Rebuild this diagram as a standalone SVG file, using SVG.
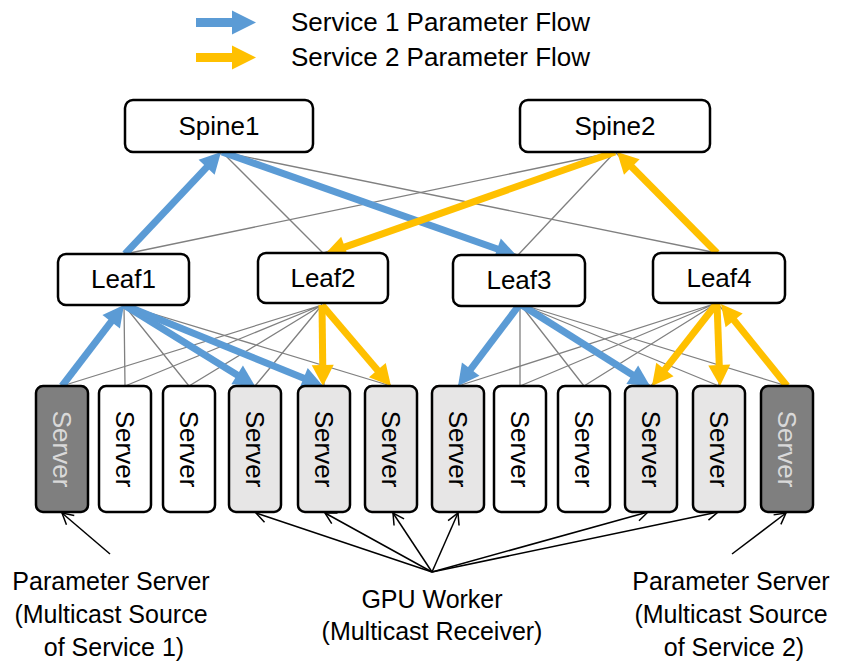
<svg xmlns="http://www.w3.org/2000/svg" width="842" height="661" viewBox="0 0 842 661">
<style>
text{font-family:"Liberation Sans",Arial,sans-serif;fill:#000}
.box{fill:#fff;stroke:#000;stroke-width:2.5}
.lbl{font-size:26px;text-anchor:middle}
.srv{stroke:#000;stroke-width:2.5}
.white{fill:#fff}
.light{fill:#e7e6e6}
.dark{fill:#7f7f7f}
.stxt{font-size:26px;text-anchor:middle;dominant-baseline:central}
.gray{stroke:#808080;stroke-width:1.3;fill:none}
.blue{stroke:#5b9bd5;stroke-width:7;fill:none;marker-end:url(#hb)}
.yel{stroke:#ffc000;stroke-width:7;fill:none;marker-end:url(#hy)}
.thin{stroke:#000;stroke-width:1.5;fill:none;marker-end:url(#ho)}
.cap{font-size:25px;text-anchor:middle}
.leg{font-size:26px}
</style>
<defs>
<marker id="hb" markerUnits="userSpaceOnUse" viewBox="0 -12 22 24" markerWidth="22" markerHeight="24" refX="1" refY="0" orient="auto" overflow="visible"><path d="M0,-11 L21,0 L0,11 z" fill="#5b9bd5"/></marker>
<marker id="hy" markerUnits="userSpaceOnUse" viewBox="0 -12 22 24" markerWidth="22" markerHeight="24" refX="1" refY="0" orient="auto" overflow="visible"><path d="M0,-11 L21,0 L0,11 z" fill="#ffc000"/></marker>
<marker id="ho" markerUnits="userSpaceOnUse" viewBox="-12 -7 13 14" markerWidth="13" markerHeight="14" refX="0" refY="0" orient="auto" overflow="visible"><path d="M-11,-6 L0,0 L-11,6" fill="none" stroke="#000" stroke-width="1.5"/></marker>
</defs>
<rect width="842" height="661" fill="#fff"/>
<g id="legend">
<polygon points="196,18 232,18 232,10.5 256,22.5 232,34.5 232,27 196,27" fill="#5b9bd5"/>
<polygon points="196,53 232,53 232,45.5 256,57.5 232,69.5 232,62 196,62" fill="#ffc000"/>
<text class="leg" x="291" y="31">Service 1 Parameter Flow</text>
<text class="leg" x="291" y="66">Service 2 Parameter Flow</text>
</g>
<g id="connectors">
<g id="gray-links">
<line class="gray" x1="222" y1="152" x2="125" y2="254"/>
<line class="gray" x1="222" y1="152" x2="323" y2="253"/>
<line class="gray" x1="222" y1="152" x2="518" y2="255"/>
<line class="gray" x1="222" y1="152" x2="717" y2="253"/>
<line class="gray" x1="615" y1="152" x2="125" y2="254"/>
<line class="gray" x1="615" y1="152" x2="323" y2="253"/>
<line class="gray" x1="615" y1="152" x2="518" y2="255"/>
<line class="gray" x1="615" y1="152" x2="717" y2="253"/>
<path class="gray" d="M124,305 L62,386 M124,305 L125,386 M124,305 L189,386 M124,305 L255,386 M124,305 L324,386 M124,305 L391,386"/>
<path class="gray" d="M322,305 L62,386 M322,305 L125,386 M322,305 L189,386 M322,305 L255,386 M322,305 L324,386 M322,305 L391,386"/>
<path class="gray" d="M520,304 L458,386 M520,304 L520,386 M520,304 L584,386 M520,304 L651,386 M520,304 L719,386 M520,304 L787,386"/>
<path class="gray" d="M717,303 L458,386 M717,303 L520,386 M717,303 L584,386 M717,303 L651,386 M717,303 L719,386 M717,303 L787,386"/>
</g>
<g id="flows">
<line class="blue" x1="125" y1="254" x2="207.3" y2="166.6"/>
<line class="blue" x1="222" y1="152" x2="498.1" y2="249.3"/>
<line class="yel" x1="615" y1="152" x2="343.9" y2="247.4"/>
<line class="yel" x1="717" y1="253" x2="631.1" y2="166.2"/>
<line class="blue" x1="62" y1="386" x2="111.8" y2="320.9"/>
<line class="blue" x1="124" y1="305" x2="238" y2="375.5"/>
<line class="blue" x1="124" y1="305" x2="304.5" y2="378.5"/>
<line class="yel" x1="322" y1="305" x2="322.75" y2="366"/>
<line class="yel" x1="322" y1="305" x2="378" y2="370.8"/>
<line class="blue" x1="520" y1="304" x2="470.1" y2="370"/>
<line class="blue" x1="520" y1="304" x2="633.1" y2="375.3"/>
<line class="yel" x1="717" y1="303" x2="664.3" y2="370.3"/>
<line class="yel" x1="717" y1="303" x2="719.3" y2="366"/>
<line class="yel" x1="787" y1="386" x2="733.5" y2="319.6"/>
</g>
<g id="label-pointers">
<line class="thin" x1="110" y1="554" x2="62" y2="513"/>
<line class="thin" x1="432" y1="572" x2="256" y2="513"/>
<line class="thin" x1="432" y1="572" x2="325" y2="513"/>
<line class="thin" x1="432" y1="572" x2="393" y2="513"/>
<line class="thin" x1="432" y1="572" x2="458" y2="513"/>
<line class="thin" x1="432" y1="572" x2="648" y2="512"/>
<line class="thin" x1="432" y1="572" x2="718" y2="512"/>
<line class="thin" x1="732" y1="554" x2="786" y2="513"/>
</g>
</g>
<g id="spine1"><rect class="box" x="125" y="100" width="188" height="52" rx="8"/><text class="lbl" x="219" y="135">Spine1</text></g>
<g id="spine2"><rect class="box" x="520" y="100" width="190" height="52" rx="8"/><text class="lbl" x="615" y="135">Spine2</text></g>
<g id="leaf1"><rect class="box" x="58" y="254" width="131" height="51" rx="8"/><text class="lbl" x="123.5" y="288">Leaf1</text></g>
<g id="leaf2"><rect class="box" x="258" y="253" width="130" height="50" rx="8"/><text class="lbl" x="323" y="287">Leaf2</text></g>
<g id="leaf3"><rect class="box" x="453" y="255" width="132" height="51" rx="8"/><text class="lbl" x="519" y="289">Leaf3</text></g>
<g id="leaf4"><rect class="box" x="653" y="253" width="132" height="50" rx="8"/><text class="lbl" x="719" y="287">Leaf4</text></g>
<g id="server1"><rect class="srv dark" x="36" y="386" width="52" height="126" rx="7"/><text class="stxt" style="fill:#d9d9d9" transform="translate(62,449) rotate(90)">Server</text></g>
<g id="server2"><rect class="srv white" x="99" y="386" width="52" height="126" rx="7"/><text class="stxt" transform="translate(125,449) rotate(90)">Server</text></g>
<g id="server3"><rect class="srv white" x="163" y="386" width="52" height="126" rx="7"/><text class="stxt" transform="translate(189,449) rotate(90)">Server</text></g>
<g id="server4"><rect class="srv light" x="229" y="386" width="52" height="126" rx="7"/><text class="stxt" transform="translate(255,449) rotate(90)">Server</text></g>
<g id="server5"><rect class="srv light" x="298" y="386" width="52" height="126" rx="7"/><text class="stxt" transform="translate(324,449) rotate(90)">Server</text></g>
<g id="server6"><rect class="srv light" x="365" y="386" width="52" height="126" rx="7"/><text class="stxt" transform="translate(391,449) rotate(90)">Server</text></g>
<g id="server7"><rect class="srv light" x="432" y="386" width="52" height="126" rx="7"/><text class="stxt" transform="translate(458,449) rotate(90)">Server</text></g>
<g id="server8"><rect class="srv white" x="494" y="386" width="52" height="126" rx="7"/><text class="stxt" transform="translate(520,449) rotate(90)">Server</text></g>
<g id="server9"><rect class="srv white" x="558" y="386" width="52" height="126" rx="7"/><text class="stxt" transform="translate(584,449) rotate(90)">Server</text></g>
<g id="server10"><rect class="srv light" x="625" y="386" width="52" height="126" rx="7"/><text class="stxt" transform="translate(651,449) rotate(90)">Server</text></g>
<g id="server11"><rect class="srv light" x="693" y="386" width="52" height="126" rx="7"/><text class="stxt" transform="translate(719,449) rotate(90)">Server</text></g>
<g id="server12"><rect class="srv dark" x="761" y="386" width="52" height="126" rx="7"/><text class="stxt" style="fill:#d9d9d9" transform="translate(787,449) rotate(90)">Server</text></g>
<g id="caption-ps1">
<text class="cap" x="111" y="590">Parameter Server</text>
<text class="cap" x="111" y="623">(Multicast Source</text>
<text class="cap" x="114" y="656">of Service 1)</text>
</g>
<g id="caption-gpu">
<text class="cap" x="432" y="608">GPU Worker</text>
<text class="cap" x="432" y="640">(Multicast Receiver)</text>
</g>
<g id="caption-ps2">
<text class="cap" x="731" y="590">Parameter Server</text>
<text class="cap" x="731" y="623">(Multicast Source</text>
<text class="cap" x="734" y="656">of Service 2)</text>
</g>
</svg>
